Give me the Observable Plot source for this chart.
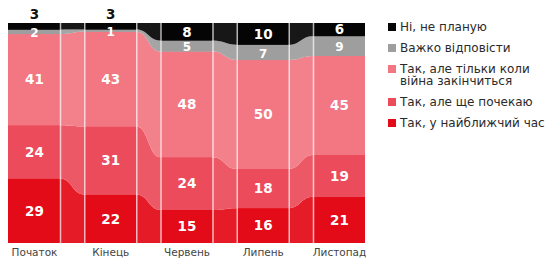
<!DOCTYPE html>
<html>
<head>
<meta charset="utf-8">
<script src="https://cdn.jsdelivr.net/npm/d3@7"></script>
<script src="https://cdn.jsdelivr.net/npm/@observablehq/plot@0.6"></script>
<style>
  html, body { margin: 0; padding: 0; background: #fff; }
  #wrap { position: relative; width: 558px; height: 259px; overflow: hidden; }
  #wrap svg { display: block; }
  #legend { position: absolute; left: 388px; top: 21px; font-family: "DejaVu Sans", sans-serif; font-size: 12px; line-height: 12px; color: #2a2a2a; }
  .item { display: flex; align-items: flex-start; margin-bottom: 9px; }
  .sw { width: 8px; height: 8px; margin-top: 2px; margin-right: 4px; flex: none; }
  .lbl { width: 165px; }
</style>
</head>
<body>
<div id="wrap"><div id="legend"></div></div>
<script>
const categories = ["Початок", "Кінець", "Червень", "Липень", "Листопад"];
const series = [
  "Так, у найближчий час",
  "Так, але ще почекаю",
  "Так, але тільки коли війна закінчиться",
  "Важко відповісти",
  "Ні, не планую"
];
const soonValues = [29, 22, 15, 16, 21];
const laterValues = [24, 31, 24, 18, 19];
const afterWarValues = [41, 43, 48, 50, 45];
const hardValues = [2, 1, 5, 7, 9];
const noValues = [3, 3, 8, 10, 6];
const colors = ["#e30b17", "#ec4b5b", "#f27783", "#9e9e9e", "#050505"];

const valueLists = [soonValues, laterValues, afterWarValues, hardValues, noValues];
const rows = [];
categories.forEach((c, i) => series.forEach((s, k) => rows.push({i, category: c, series: s, value: valueLists[k][i]})));

const h = 0.341; // half bar width in category steps
const areaRows = [];
rows.forEach(d => { areaRows.push({...d, x: d.i - h}); areaRows.push({...d, x: d.i + h}); });

const edges = [];
for (let i = 0; i < categories.length - 1; i++) { edges.push(i + h); edges.push(i + 1 - h); }

const isSmallTop = d => d.series === series[4] && d.value < 5;
const isGray = d => d.series === series[3];

const chart = Plot.plot({
  width: 558,
  height: 259,
  marginTop: 23,
  marginBottom: 16,
  marginLeft: 0,
  marginRight: 0,
  x: {type: "linear", domain: [0, categories.length - 1], range: [34, 339], axis: null},
  y: {domain: [0, 1], range: [243, 23], axis: null},
  color: {domain: series, range: colors},
  style: {fontFamily: "DejaVu Sans, sans-serif"},
  marks: [
    Plot.areaY(areaRows, {x: "x", y: "value", z: "series", fill: "series", order: series, offset: "normalize", curve: "bump-x", fillOpacity: 0.93}),
    Plot.rectY(rows, {x1: d => d.i - h, x2: d => d.i + h, y: "value", z: "series", fill: "series", order: series, offset: "normalize"}),
    Plot.ruleX(edges, {x: d => d, y1: 0, y2: 1, stroke: "white", strokeOpacity: 0.7, strokeWidth: 1.5}),
    Plot.text(rows, Plot.stackY({x: "i", y: "value", z: "series", order: series, offset: "normalize",
      text: d => (isSmallTop(d) || isGray(d)) ? "" : String(d.value), fill: "white", fontSize: 13.5, fontWeight: "bold"})),
    Plot.text(rows, Plot.stackY({x: "i", y: "value", z: "series", order: series, offset: "normalize",
      text: d => isGray(d) ? String(d.value) : "", fill: "white", fontSize: 12, fontWeight: "bold", dy: 1})),
    Plot.text(rows, Plot.stackY2({x: "i", y: "value", z: "series", order: series, offset: "normalize",
      text: d => isSmallTop(d) ? String(d.value) : "", fill: "#111", fontSize: 13.5, fontWeight: "bold", dy: -9})),
    Plot.axisX({ticks: d3.range(categories.length), tickFormat: i => categories[i], tickSize: 0, tickPadding: 5,
      fontSize: 10.5, fill: "#444", label: null})
  ]
});
document.getElementById("wrap").prepend(chart);

const legend = document.getElementById("legend");
series.slice().reverse().forEach(s => {
  const item = document.createElement("div");
  item.className = "item";
  const sw = document.createElement("div");
  sw.className = "sw";
  sw.style.background = colors[series.indexOf(s)];
  const lbl = document.createElement("div");
  lbl.className = "lbl";
  lbl.textContent = s;
  item.append(sw, lbl);
  legend.append(item);
});
</script>
</body>
</html>
